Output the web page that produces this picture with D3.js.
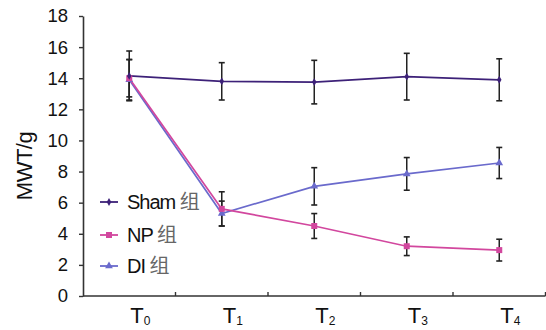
<!DOCTYPE html>
<html>
<head>
<meta charset="utf-8">
<script src="https://cdn.jsdelivr.net/npm/d3@7.9.0/dist/d3.min.js"></script>
<style>
  body { margin: 0; background: #fff; }
  svg { display: block; font-family: "Liberation Sans", Arial, sans-serif; }
</style>
</head>
<body>
<svg width="546" height="330"></svg>
<script>
// data
const categories = ["T0", "T1", "T2", "T3", "T4"];
const subscripts = ["0", "1", "2", "3", "4"];
const yTicks = [0, 2, 4, 6, 8, 10, 12, 14, 16, 18];

const shamValues = [14.15, 13.8, 13.75, 14.1, 13.9];
const shamErr = [1.6, 1.2, 1.4, 1.5, 1.35];
const npValues = [14.0, 5.6, 4.5, 3.2, 2.95];
const npErr = [1.2, 1.1, 0.8, 0.6, 0.7];
const diValues = [13.9, 5.3, 7.05, 7.85, 8.55];
const diErr = [1.3, 0.8, 1.2, 1.05, 1.0];

const series = [
  { name: "Sham", values: shamValues, err: shamErr, color: "#3d2178", marker: "diamond" },
  { name: "NP", values: npValues, err: npErr, color: "#d2479e", marker: "square" },
  { name: "DI", values: diValues, err: diErr, color: "#6a6acc", marker: "triangle" }
];

const svg = d3.select("svg");

const x = d3.scaleBand().domain(categories).range([83, 545.5]);
const y = d3.scaleLinear().domain([0, 18]).range([296, 16]);
const cx = (c) => x(c) + x.bandwidth() / 2;

// y axis
const yAxis = svg.append("g")
  .attr("transform", "translate(83,0)")
  .call(d3.axisLeft(y).tickValues(yTicks).tickSize(4).tickSizeOuter(0).tickPadding(11));
yAxis.select(".domain").attr("stroke", "#333").attr("stroke-width", 1.6);
yAxis.selectAll(".tick line").attr("stroke", "#333").attr("stroke-width", 1.4);
yAxis.selectAll(".tick text")
  .attr("font-size", 18.5)
  .attr("fill", "#111")
  .attr("font-family", "Liberation Sans, Arial, sans-serif");

// x axis line and inward ticks
svg.append("line")
  .attr("x1", 83).attr("x2", 545.5)
  .attr("y1", y(0)).attr("y2", y(0))
  .attr("stroke", "#333").attr("stroke-width", 1.6);
svg.selectAll(".xtick")
  .data(categories)
  .join("line")
  .attr("class", "xtick")
  .attr("x1", (d) => x(d) + x.bandwidth())
  .attr("x2", (d) => x(d) + x.bandwidth())
  .attr("y1", y(0)).attr("y2", y(0) - 4)
  .attr("stroke", "#333").attr("stroke-width", 1.4);

// x labels with subscript
const xl = svg.selectAll(".xlab")
  .data(categories)
  .join("text")
  .attr("class", "xlab")
  .attr("x", (d) => cx(d) + 1)
  .attr("y", 323)
  .attr("font-size", 22)
  .attr("fill", "#111");
xl.append("tspan").text("T");
xl.append("tspan")
  .attr("font-size", 12)
  .attr("dy", 2)
  .text((d, i) => subscripts[i]);

// y label
svg.append("text")
  .attr("transform", "translate(32,166) rotate(-90)")
  .attr("text-anchor", "middle")
  .attr("font-size", 22)
  .attr("fill", "#111")
  .attr("letter-spacing", -0.5)
  .text("MWT/g");

function drawMarker(g, type, color, px, py) {
  if (type === "diamond") {
    g.append("path")
      .attr("d", d3.symbol().type(d3.symbolDiamond).size(18)())
      .attr("transform", `translate(${px},${py})`)
      .attr("fill", color);
  } else if (type === "square") {
    g.append("rect")
      .attr("x", px - 3).attr("y", py - 3)
      .attr("width", 6).attr("height", 6)
      .attr("fill", color);
  } else {
    g.append("path")
      .attr("d", d3.symbol().type(d3.symbolTriangle).size(26)())
      .attr("transform", `translate(${px},${py})`)
      .attr("fill", color);
  }
}

const line = d3.line()
  .x((d, i) => cx(categories[i]))
  .y((d) => y(d));

// draw back to front: DI, NP, Sham
[series[2], series[1], series[0]].forEach((s) => {
  svg.append("path")
    .attr("d", line(s.values))
    .attr("fill", "none")
    .attr("stroke", s.color)
    .attr("stroke-width", 1.7);
});

// error bars
series.forEach((s) => {
  const g = svg.append("g");
  s.values.forEach((v, i) => {
    const px = cx(categories[i]);
    const top = y(v + s.err[i]);
    const bot = y(v - s.err[i]);
    g.append("line").attr("x1", px).attr("x2", px).attr("y1", top).attr("y2", bot)
      .attr("stroke", "#222").attr("stroke-width", 1.5);
    [top, bot].forEach((yy) => {
      g.append("line").attr("x1", px - 3).attr("x2", px + 3).attr("y1", yy).attr("y2", yy)
        .attr("stroke", "#222").attr("stroke-width", 1.6);
    });
  });
});

// markers
[series[2], series[1], series[0]].forEach((s) => {
  const g = svg.append("g");
  s.values.forEach((v, i) => drawMarker(g, s.marker, s.color, cx(categories[i]), y(v)));
});

// legend
const legendY = [202, 235, 266];
series.forEach((s, i) => {
  const g = svg.append("g");
  g.append("line")
    .attr("x1", 100).attr("x2", 118)
    .attr("y1", legendY[i]).attr("y2", legendY[i])
    .attr("stroke", s.color).attr("stroke-width", 1.8);
  drawMarker(g, s.marker, s.color, 109, legendY[i]);
  const t = g.append("text")
    .attr("x", 127)
    .attr("y", legendY[i] + 7)
    .attr("font-size", 20)
    .attr("fill", "#111")
    .attr("letter-spacing", -1);
  t.append("tspan").text(s.name + " ");
  t.append("tspan")
    .attr("font-family", "Noto Sans CJK SC")
    .attr("fill", "#666")
    .attr("font-size", 20)
    .attr("letter-spacing", 0)
    .text("组");
});
</script>
</body>
</html>
